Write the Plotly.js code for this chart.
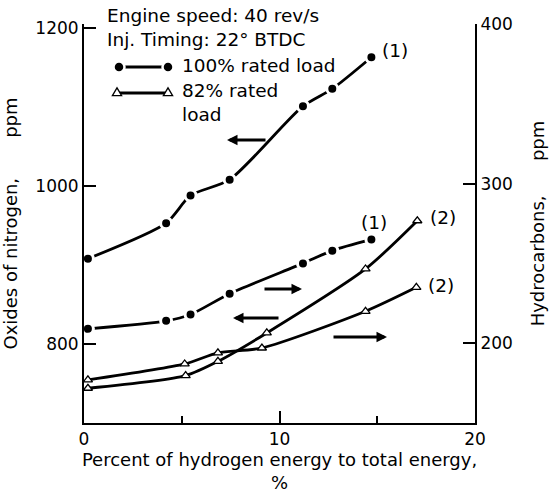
<!DOCTYPE html>
<html><head><meta charset="utf-8">
<script src="https://cdn.plot.ly/plotly-3.0.1.min.js"></script>
<style>html,body{margin:0;padding:0;background:#fff}</style>
</head><body><div id="chart" style="width:551px;height:493px"></div>
<script>
// ---- data ----
const hydrogenPct100 = [0.2, 4.2, 5.45, 7.45, 11.2, 12.7, 14.7];
const nox100 = [908, 953, 988, 1008, 1101, 1123, 1163];
const hc100 = [209, 214, 218, 231, 250, 258, 265];
const hydrogenPctNox82 = [0.2, 5.2, 6.85, 9.35, 14.4, 17.05];
const nox82 = [744, 760, 778, 814, 895, 956];
const hydrogenPctHc82 = [0.2, 5.15, 6.85, 9.1, 14.4, 17.0];
const hc82 = [177, 187, 194, 197, 220, 235];
const xTickVals = [0, 10, 20];
const xTickText = ['0', '10', '20'];
const noxTickVals = [800, 1000, 1200];
const hcTickVals = [200, 300, 400];

// ---- layout helpers (pixel -> paper) ----
const M = {l: 84, r: 76, t: 24, b: 70};
const W = 551 - M.l - M.r, H = 493 - M.t - M.b;
const px = x => (x - M.l) / W;
const py = y => (M.t + H - y) / H;
const FONT = 'DejaVu Sans';

const dotLine = {color: '#000', width: 2.8, shape: 'spline', smoothing: 0.7};
const dotMarker = {symbol: 'circle', size: 11, color: '#000', line: {color: '#fff', width: 3}};
const triMarker = {symbol: 'triangle-up', size: 8, color: '#fff', line: {color: '#000', width: 1.3}};

const traces = [
  {name: 'NOx, 100% rated load', x: hydrogenPct100, y: nox100, yaxis: 'y', mode: 'lines+markers', line: dotLine, marker: dotMarker},
  {name: 'HC, 100% rated load', x: hydrogenPct100, y: hc100, yaxis: 'y2', mode: 'lines+markers', line: dotLine, marker: dotMarker},
  {name: 'NOx, 82% rated load', x: hydrogenPctNox82, y: nox82, yaxis: 'y', mode: 'lines+markers', line: dotLine, marker: triMarker},
  {name: 'HC, 82% rated load', x: hydrogenPctHc82, y: hc82, yaxis: 'y2', mode: 'lines+markers', line: dotLine, marker: triMarker}
];

const TXT_FONT = {family: FONT, size: 18.5, color: '#000'};
function txt(text, x, y) {
  return {text, xref: 'paper', yref: 'paper', x: px(x), y: py(y), xanchor: 'left', yanchor: 'middle', align: 'left',
    showarrow: false, font: TXT_FONT};
}
function arrow(hx, hy, tx) {
  return {text: '', xref: 'paper', yref: 'paper', x: px(hx), y: py(hy), ax: tx - hx, ay: 0,
    showarrow: true, arrowhead: 2, arrowsize: 0.75, arrowwidth: 2.8, arrowcolor: '#000', standoff: 0, startstandoff: 0};
}
const n = hydrogenPct100.length - 1;
const m = nox82.length - 1;
const annotations = [
  txt('Engine speed: 40 rev/s<br>Inj. Timing: 22° BTDC', 105, 27),
  txt('100% rated load', 180, 65),
  txt('82% rated<br>load', 180, 102),
  {text: '(1)', x: hydrogenPct100[n], y: nox100[n], xref: 'x', yref: 'y', xshift: 24, yshift: 7, showarrow: false, font: TXT_FONT},
  {text: '(1)', x: hydrogenPct100[n], y: hc100[n], xref: 'x', yref: 'y2', xshift: 3, yshift: 17, showarrow: false, font: TXT_FONT},
  {text: '(2)', x: hydrogenPctNox82[m], y: nox82[m], xref: 'x', yref: 'y', xshift: 26, yshift: 3, showarrow: false, font: TXT_FONT},
  {text: '(2)', x: hydrogenPctHc82[hc82.length - 1], y: hc82[hc82.length - 1], xref: 'x', yref: 'y2', xshift: 25, yshift: 2, showarrow: false, font: TXT_FONT},
  arrow(227, 140, 267),
  arrow(302, 289, 263),
  arrow(233, 318, 280),
  arrow(387, 337, 332)
];

function circleAt(x, y) {
  return {type: 'circle', xref: 'paper', yref: 'paper', xsizemode: 'pixel', ysizemode: 'pixel',
    xanchor: px(x), yanchor: py(y), x0: -5.5, x1: 5.5, y0: -5.5, y1: 5.5,
    fillcolor: '#000', line: {color: '#fff', width: 2.5}};
}
function triAt(x, y) {
  return {type: 'path', xref: 'paper', yref: 'paper', xsizemode: 'pixel', ysizemode: 'pixel',
    xanchor: px(x), yanchor: py(y), path: 'M -4.6 -2.6 L 4.6 -2.6 L 0 5.2 Z',
    fillcolor: '#fff', line: {color: '#000', width: 1.3}};
}
const shapes = [
  {type: 'line', xref: 'paper', yref: 'paper', x0: px(119), x1: px(168), y0: py(67), y1: py(67), line: {color: '#000', width: 2.8}},
  circleAt(119, 67), circleAt(168, 67),
  {type: 'line', xref: 'paper', yref: 'paper', x0: px(117), x1: px(168), y0: py(93), y1: py(93), line: {color: '#000', width: 2.8}},
  triAt(117, 93), triAt(168, 93)
];

const axisCommon = {showline: true, linewidth: 2, linecolor: '#000', ticks: 'inside', ticklen: 12, tickwidth: 2,
  tickcolor: '#000', showgrid: false, zeroline: false, tickfont: {family: FONT, size: 17, color: '#000'}};
const TITLE_FONT = {family: FONT, size: 18, color: '#000'};

const layout = {
  width: 551, height: 493, margin: M, paper_bgcolor: '#fff', plot_bgcolor: '#fff',
  showlegend: false, font: {family: FONT, size: 17, color: '#000'},
  xaxis: Object.assign({}, axisCommon, {range: [0, 20], tickvals: xTickVals, ticktext: xTickText,
    minor: {dtick: 5, tick0: 0, ticks: 'inside', ticklen: 7, tickwidth: 2, tickcolor: '#000', showgrid: false},
    title: {text: 'Percent of hydrogen energy to total energy,<br>%', font: TITLE_FONT, standoff: 23}}),
  yaxis: Object.assign({}, axisCommon, {range: [700, 700 + 500 * H / (M.t + H - 28)], tickvals: noxTickVals,
    title: {text: 'Oxides of nitrogen,' + '\u00a0'.repeat(7) + 'ppm', font: TITLE_FONT, standoff: 14}}),
  yaxis2: Object.assign({}, axisCommon, {overlaying: 'y', side: 'right', range: [150, 400], tickvals: hcTickVals,
    title: {text: 'Hydrocarbons,' + '\u00a0'.repeat(6) + 'ppm', font: TITLE_FONT, standoff: 20}}),
  annotations, shapes
};

Plotly.newPlot('chart', traces, layout, {staticPlot: true, displayModeBar: false});
</script></body></html>
